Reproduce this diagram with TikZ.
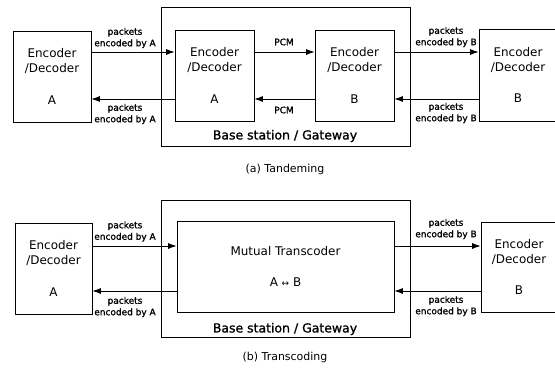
\documentclass[tikz,border=0pt]{standalone}
\usepackage{fontspec}
\setmainfont{DejaVu Sans}
\newfontfamily\heavyfont[FakeBold=1.2]{DejaVu Sans}
\usetikzlibrary{arrows.meta}

\begin{document}
\begin{tikzpicture}[x=1bp, y=-1bp,
    box/.style={draw, line width=0.8pt, inner sep=0pt, align=center,
                font=\fontsize{12}{15}\selectfont},
    pkt/.style={line width=0.8pt, -{Latex[length=8.5bp, width=6bp]}},
    lbl/.style={font=\heavyfont\fontsize{9}{11.5}\selectfont, align=center, inner sep=0pt},
    gw/.style={font=\heavyfont\fontsize{12.5}{15}\selectfont, inner sep=0pt}]

    \useasboundingbox (0,0) rectangle (555,369);

    \def\encA{Encoder\\/Decoder\\[17bp]A}
    \def\encB{Encoder\\/Decoder\\[17bp]B}

    % (a) tandeming
    \node[box, minimum width=249bp, minimum height=139bp] (gwa) at (285.5,76.5) {};
    \node[box, minimum width=78bp, minimum height=91bp] (leftA) at (52,76.5) {\encA};
    \node[box, minimum width=79bp, minimum height=91bp] (codA) at (214.5,75.5) {\encA};
    \node[box, minimum width=79bp, minimum height=91bp] (codB) at (354.5,75.5) {\encB};
    \node[box, minimum width=78bp, minimum height=92bp] (rightB) at (518,75) {\encB};

    \coordinate (ta) at (0,52);
    \coordinate (ba) at (0,99);

    \draw[pkt] (leftA.east |- ta) -- (codA.west |- ta);
    \draw[pkt] (codA.west |- ba) -- (leftA.east |- ba);
    \draw[pkt] (codA.east |- ta) -- (codB.west |- ta);
    \draw[pkt] (codB.west |- ba) -- (codA.east |- ba);
    \draw[pkt] (codB.east |- ta) -- (rightB.west |- ta);
    \draw[pkt] (rightB.west |- ba) -- (codB.east |- ba);

    \node[lbl] (la1) at (125,38) {packets\\encoded by A};
    \node[lbl] (la2) at (125,114) {packets\\encoded by A};
    \node[lbl] (pcm1) at (284,42) {PCM};
    \node[lbl] (pcm2) at (284,110) {PCM};
    \node[lbl] (lb1) at (446,37) {packets\\encoded by B};
    \node[lbl] (lb2) at (446,113) {packets\\encoded by B};

    \node[gw] (gwa lbl) at (285,136) {Base station / Gateway};
    \node[gw, font=\fontsize{11}{13}\selectfont] (capa) at (285,169) {(a) Tandeming};

    % (b) transcoding
    \node[box, minimum width=249bp, minimum height=137bp] (gwb) at (285.5,268.5) {};
    \node[box, minimum width=77bp, minimum height=91bp] (leftA2) at (53.5,268.5) {\encA};
    \node[box, minimum width=217bp, minimum height=91bp] (mutual) at (285.5,266.5)
        {Mutual Transcoder\\[16bp]A {\small ↔} B};
    \node[box, minimum width=76bp, minimum height=90bp] (rightB2) at (519,267) {\encB};

    \coordinate (tb) at (0,246);
    \coordinate (bb) at (0,291);

    \draw[pkt] (leftA2.east |- tb) -- (mutual.west |- tb);
    \draw[pkt] (mutual.west |- bb) -- (leftA2.east |- bb);
    \draw[pkt] (mutual.east |- tb) -- (rightB2.west |- tb);
    \draw[pkt] (rightB2.west |- bb) -- (mutual.east |- bb);

    \node[lbl] (la3) at (125,231.5) {packets\\encoded by A};
    \node[lbl] (la4) at (125,307) {packets\\encoded by A};
    \node[lbl] (lb3) at (446,229) {packets\\encoded by B};
    \node[lbl] (lb4) at (446,306) {packets\\encoded by B};

    \node[gw] (gwb lbl) at (285,329) {Base station / Gateway};
    \node[gw, font=\fontsize{11}{13}\selectfont] (capb) at (285,357) {(b) Transcoding};
\end{tikzpicture}
\end{document}
